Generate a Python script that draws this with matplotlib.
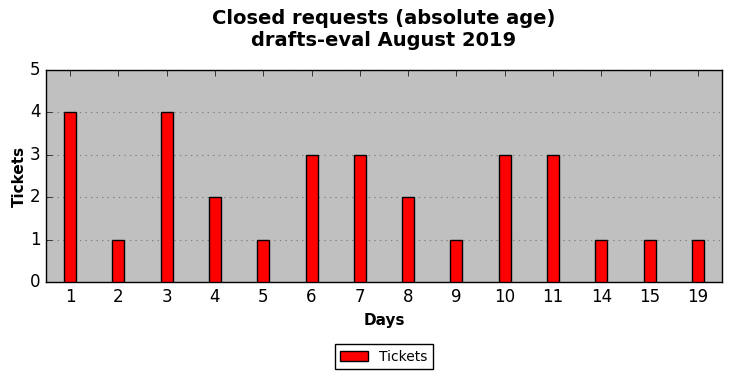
import matplotlib
matplotlib.use('Agg')
import matplotlib.pyplot as plt
import numpy as np

plt.style.use('classic')

days = ['1', '2', '3', '4', '5', '6', '7', '8', '9', '10', '11', '14', '15', '19']
tickets = [4, 1, 4, 2, 1, 3, 3, 2, 1, 3, 3, 1, 1, 1]

fig = plt.figure(figsize=(7.32, 3.78), dpi=100)
fig.patch.set_facecolor('white')
ax = fig.add_axes([46 / 732, 1 - 282 / 378, 676 / 732, 212 / 378])
ax.set_facecolor('#c0c0c0')

x = np.arange(len(days))
ax.bar(x, tickets, width=0.25, color='#ff0000', edgecolor='black', linewidth=1,
       align='center', label='Tickets', zorder=3)

ax.set_xlim(-0.5, len(days) - 0.5)
ax.set_ylim(0, 5)
ax.set_xticks(x)
ax.set_xticklabels(days, fontsize=12)
ax.set_yticks(range(6))
ax.tick_params(axis='y', labelsize=12, right=False)
ax.tick_params(axis='x', top=True)
ax.yaxis.grid(True, linestyle=':', color='#808080', linewidth=0.8, zorder=0)
ax.set_axisbelow(True)

ax.set_xlabel('Days', fontsize=11, fontweight='bold')
ax.set_ylabel('Tickets', fontsize=11, fontweight='bold', labelpad=2)
fig.suptitle('Closed requests (absolute age)\ndrafts-eval August 2019',
             fontsize=14, fontweight='bold', x=384 / 732, y=0.975)

ax.legend(loc='upper center', bbox_to_anchor=(0.5, -0.26), fontsize=10,
          ncol=1, frameon=True, fancybox=False, handlelength=2)

fig.savefig('out.png', dpi=100, facecolor='white')
